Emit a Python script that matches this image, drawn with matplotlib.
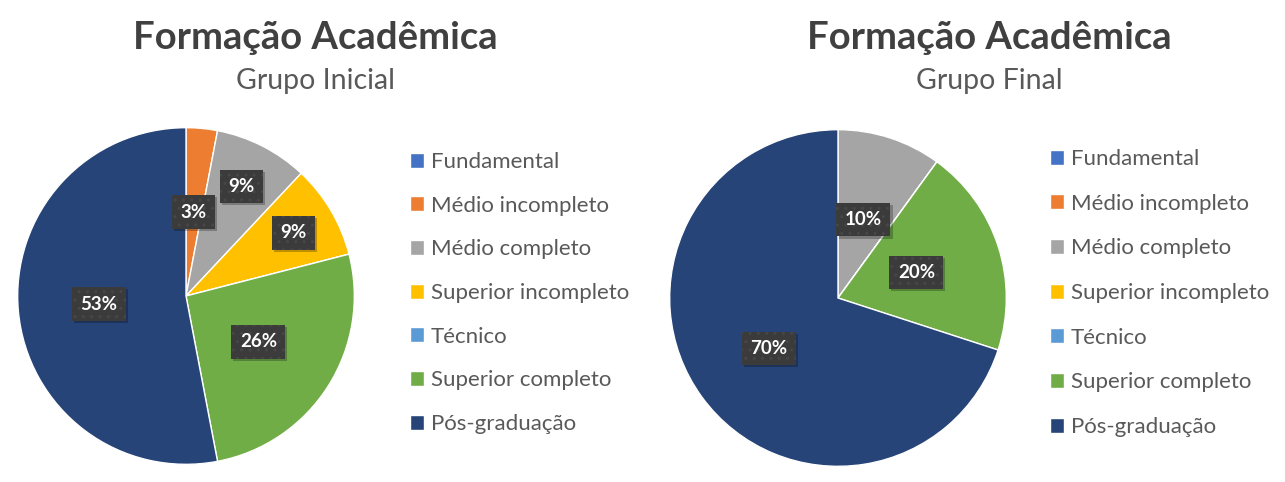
import numpy as np
import matplotlib.pyplot as plt

plt.rcParams['font.family'] = ['Lato', 'DejaVu Sans']
plt.rcParams['hatch.linewidth'] = 1.0

# data
categorias = ['Fundamental', 'Médio incompleto', 'Médio completo', 'Superior incompleto',
              'Técnico', 'Superior completo', 'Pós-graduação']
grupo_inicial = [0, 3, 9, 9, 0, 26, 53]
grupo_final = [0, 0, 10, 0, 0, 20, 70]

cores = ['#4472C4', '#ED7D31', '#A5A5A5', '#FFC000', '#5B9BD5', '#70AD47', '#264478']

W, H = 1285, 482
fig = plt.figure(figsize=(W / 100, H / 100), dpi=100)


def px_axes(x0, y0, w, h):
    # axes in pixel coords (top-left origin)
    return fig.add_axes([x0 / W, 1 - (y0 + h) / H, w / W, h / H])


def desenha_pizza(ax, valores, dist_rotulos):
    wedges, _ = ax.pie(valores, colors=cores, startangle=90, counterclock=False,
                       radius=1, wedgeprops=dict(edgecolor='white', linewidth=1.0))
    for w, v, d in zip(wedges, valores, dist_rotulos):
        if v == 0:
            continue
        ang = np.deg2rad((w.theta1 + w.theta2) / 2)
        x, y = d * np.cos(ang), d * np.sin(ang)
        # shadow
        ax.text(x + 0.012, y - 0.012, f'{v}%', ha='center', va='center',
                color='none', fontsize=13.5, fontweight='bold',
                bbox=dict(boxstyle='square,pad=0.45', fc='black', alpha=0.25, lw=0))
        ax.text(x, y, f'{v}%', ha='center', va='center',
                color='white', fontsize=13.5, fontweight='bold',
                bbox=dict(boxstyle='square,pad=0.45', fc='#3b3b3b', ec='#474747',
                          lw=0, hatch='..'))
    ax.set_xlim(-1.01, 1.01)
    ax.set_ylim(-1.01, 1.01)
    ax.set_aspect('equal')
    ax.axis('off')
    return wedges


ax1 = px_axes(16, 126, 340, 340)
w1 = desenha_pizza(ax1, grupo_inicial, [0.5, 0.5, 0.73, 0.74, 0.5, 0.51, 0.52])
ax2 = px_axes(668, 128, 340, 340)
desenha_pizza(ax2, grupo_final, [0.5, 0.5, 0.49, 0.5, 0.5, 0.49, 0.51])

# titles
for cx, sub in [(315, 'Grupo Inicial'), (989, 'Grupo Final')]:
    fig.text(cx / W, 1 - 38 / H, 'Formação Acadêmica', ha='center', va='center',
             fontsize=27.5, fontweight='bold', color='#404040')
    fig.text(cx / W, 1 - 81 / H, sub, ha='center', va='center',
             fontsize=20.5, color='#595959')

# legends
for x0, yc, esp in [(410, 293, 1.065), (1050, 293, 1.11)]:
    fig.legend(w1, categorias, loc='center left',
               bbox_to_anchor=(x0 / W, 1 - yc / H),
               frameon=False, fontsize=16, labelcolor='#595959',
               handlelength=0.65, handleheight=0.65, handletextpad=0.3,
               labelspacing=esp, borderpad=0, borderaxespad=0)

fig.savefig('out.png', dpi=100, facecolor='white')
